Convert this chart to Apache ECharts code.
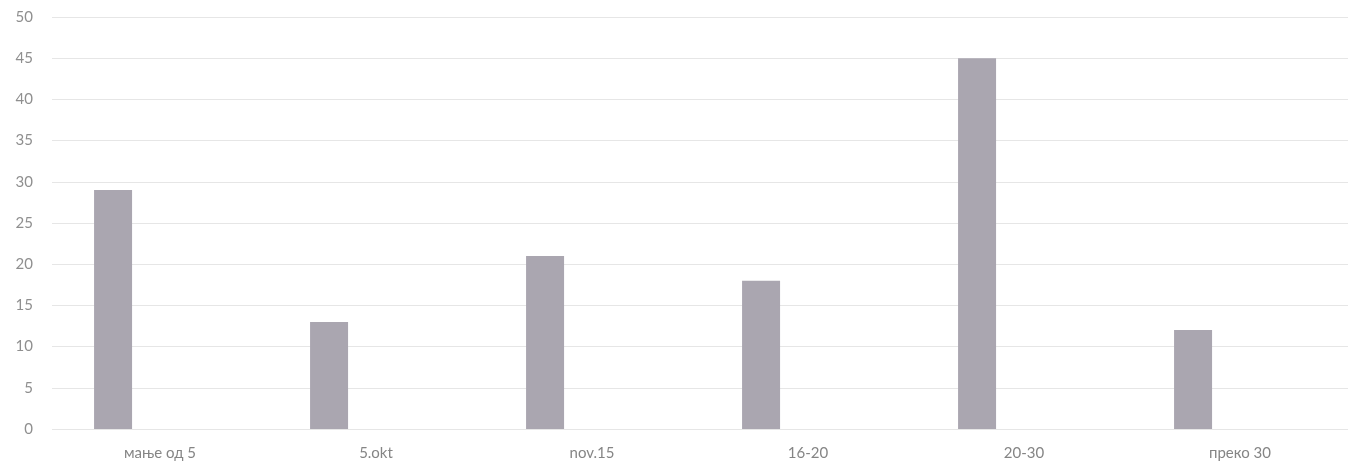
<!DOCTYPE html>
<html><head><meta charset="utf-8">
<script src="https://cdn.jsdelivr.net/npm/echarts@6/dist/echarts.min.js"></script>
<style>html,body{margin:0;padding:0;background:#fff}#c{width:1351px;height:468px}</style>
</head><body><div id="c"></div>
<script>
const categories = ['мање од 5', '5.okt', 'nov.15', '16-20', '20-30', 'преко 30'];
const values = [29, 13, 21, 18, 45, 12];
const placeholder = [null, null, null, null, null, null];
const yMin = 0, yMax = 50, yStep = 5;

const chart = echarts.init(document.getElementById('c'));
chart.setOption({
  animation: false,
  grid: { left: 52, right: 3, top: 17, bottom: 39, containLabel: false },
  xAxis: {
    type: 'category', data: categories,
    axisLine: { show: false }, axisTick: { show: false },
    axisLabel: { color: '#858585', fontFamily: 'Lato', fontSize: 15, margin: 17 }
  },
  yAxis: {
    type: 'value', min: yMin, max: yMax, interval: yStep,
    axisLine: { show: false }, axisTick: { show: false },
    axisLabel: { color: '#8f8f8f', fontFamily: 'Lato', fontSize: 15, margin: 19 },
    splitLine: { lineStyle: { color: '#e6e6e6', width: 1 } }
  },
  series: [
    { type: 'bar', data: values, barWidth: 38, barGap: '147%',
      itemStyle: { color: '#aaa6b0' } },
    { type: 'bar', data: placeholder, barWidth: 38 }
  ]
});
</script></body></html>
